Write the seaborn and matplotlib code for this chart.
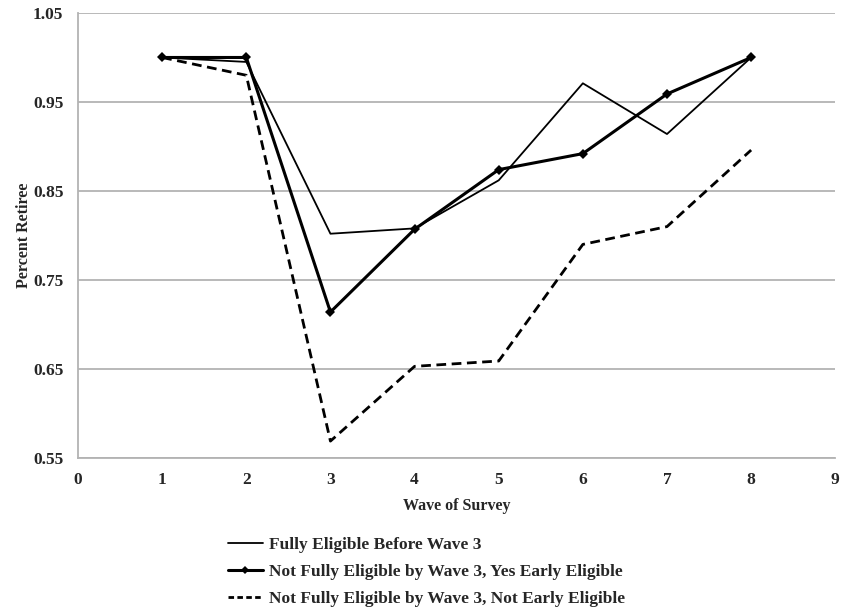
import pandas as pd
import seaborn as sns
import matplotlib.pyplot as plt
from matplotlib.lines import Line2D

waves = [1, 2, 3, 4, 5, 6, 7, 8]
fully_eligible = [1.0, 0.995, 0.802, 0.808, 0.862, 0.971, 0.914, 1.0]
yes_early = [1.0, 1.0, 0.714, 0.807, 0.874, 0.892, 0.959, 1.0]
not_early = [1.0, 0.980, 0.569, 0.653, 0.659, 0.790, 0.810, 0.896]

labels = ["Fully Eligible Before Wave 3",
          "Not Fully Eligible by Wave 3, Yes Early Eligible",
          "Not Fully Eligible by Wave 3, Not Early Eligible"]

x_ticks = list(range(0, 10))
y_ticks = [0.55, 0.65, 0.75, 0.85, 0.95, 1.05]

sns.set_style("white")
plt.rcParams['font.family'] = ['Liberation Serif', 'DejaVu Serif']
plt.rcParams['font.weight'] = 'bold'

fig = plt.figure(figsize=(8.48, 6.12), dpi=100)
ax = fig.add_axes([0.092, 0.2516, 0.893, 0.7272])

for yv in y_ticks:
    ax.axhline(yv, color='#b3b3b3', lw=1.3, zorder=0)

sns.lineplot(x=waves, y=fully_eligible, ax=ax, color='black', lw=1.3)
sns.lineplot(x=waves, y=yes_early, ax=ax, color='black', lw=2.2,
             marker='D', markersize=5, markeredgewidth=0)
sns.lineplot(x=waves, y=not_early, ax=ax, color='black', lw=2.0,
             linestyle=(0, (3.5, 2)))

ax.set_xlim(0, 9)
ax.set_ylim(0.55, 1.05)
ax.set_xticks(x_ticks)
ax.set_yticks(y_ticks)
ax.set_yticklabels([f"{v:.2f}" for v in y_ticks])
ax.tick_params(axis='y', length=0, labelsize=12.5, pad=10.5)
ax.tick_params(axis='x', length=0, labelsize=12.5, pad=10)
for t in ax.get_xticklabels() + ax.get_yticklabels():
    t.set_fontweight('bold')

for s in ['top', 'right']:
    ax.spines[s].set_visible(False)
for s in ['left', 'bottom']:
    ax.spines[s].set_color('#b3b3b3')
    ax.spines[s].set_linewidth(1.3)

ax.set_xlabel("Wave of Survey", fontsize=11.5, fontweight='bold', labelpad=7)
ax.set_ylabel("Percent Retiree", fontsize=11.5, fontweight='bold', labelpad=1)

handles = [
    Line2D([], [], color='black', lw=1.3),
    Line2D([], [], color='black', lw=2.2, marker='D', markersize=4, markeredgewidth=0),
    Line2D([], [], color='black', lw=2.0, linestyle=(0, (2, 1.2))),
]
leg = fig.legend(handles, labels, loc='upper left', bbox_to_anchor=(0.269, 0.123),
                 frameon=False, fontsize=12.5, handlelength=2.0, handletextpad=0.35,
                 labelspacing=0.62, borderaxespad=0, borderpad=0)
for t in leg.get_texts():
    t.set_fontweight('bold')

fig.savefig("out.png", dpi=100)
